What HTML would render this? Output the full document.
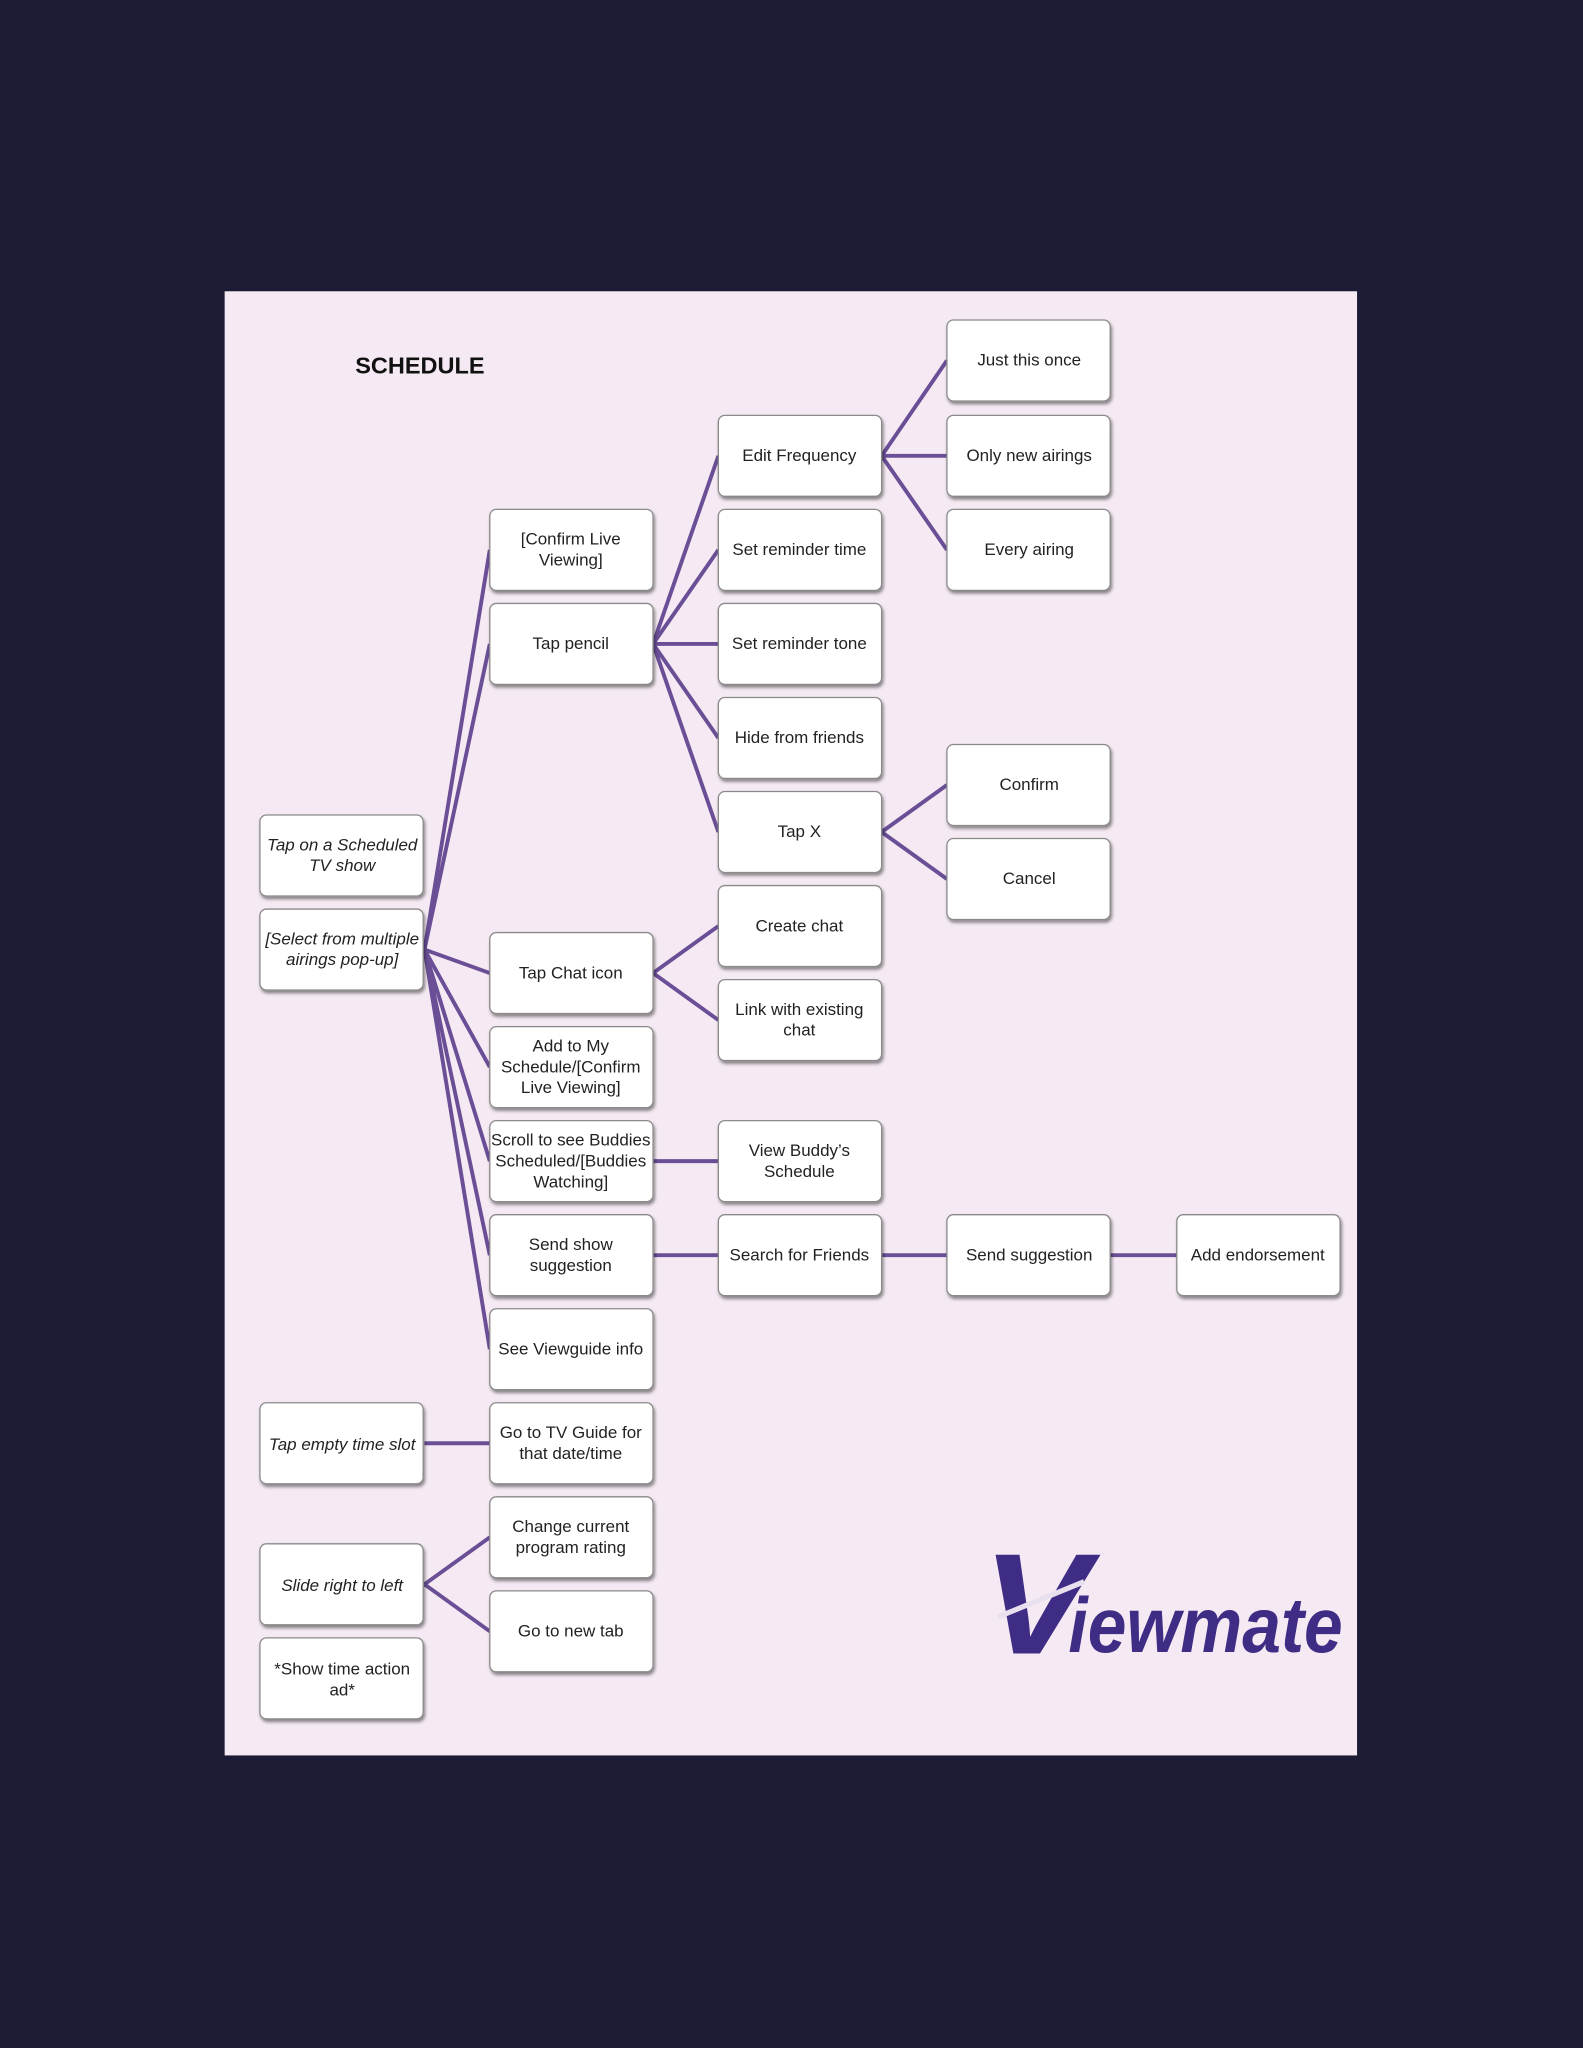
<!DOCTYPE html>
<html><head><meta charset="utf-8"><style>
html,body{margin:0;padding:0;background:#1c1b36;}
svg{display:block;}
text{font-family:"Liberation Sans",sans-serif;}
</style></head><body>
<svg width="1583" height="2048" viewBox="0 0 1212 1568" preserveAspectRatio="none" xmlns="http://www.w3.org/2000/svg">
<defs>
<filter id="sh" x="-10%" y="-10%" width="130%" height="140%"><feDropShadow dx="1" dy="2" stdDeviation="1.2" flood-color="#000" flood-opacity="0.45"/></filter>
</defs>
<rect width="1212" height="1568" fill="#1c1b36"/>
<rect x="172" y="223" width="867" height="1121" fill="#f5eaf3"/>
<text x="272" y="286" font-size="18" font-weight="bold" fill="#111" textLength="99" lengthAdjust="spacingAndGlyphs">SCHEDULE</text>
<g stroke="#6a4f96" stroke-width="3" fill="none">
<path d="M325 727L375 421M325 727L375 493M325 727L375 745M325 727L375 817M325 727L375 889M325 727L375 961M325 727L375 1033"/>
<path d="M500 493L550 349M500 493L550 421M500 493L550 493M500 493L550 565M500 493L550 637"/>
<path d="M675 349L725 276M675 349L725 349M675 349L725 421"/>
<path d="M675 637L725 601M675 637L725 673"/>
<path d="M500 745L550 709M500 745L550 781"/>
<path d="M500 889L550 889M500 961L550 961M675 961L725 961M850 961L901 961"/>
<path d="M325 1105L375 1105M325 1213L375 1177M325 1213L375 1249"/>
</g>
<g font-size="13" fill="#222" text-anchor="middle">
<g filter="url(#sh)" fill="#fff" stroke="#8a8a8a" stroke-width="1">
<rect x="199" y="624" width="125" height="62" rx="5"/>
<rect x="199" y="696" width="125" height="62" rx="5"/>
<rect x="199" y="1074" width="125" height="62" rx="5"/>
<rect x="199" y="1182" width="125" height="62" rx="5"/>
<rect x="199" y="1254" width="125" height="62" rx="5"/>
<rect x="375" y="390" width="125" height="62" rx="5"/>
<rect x="375" y="462" width="125" height="62" rx="5"/>
<rect x="375" y="714" width="125" height="62" rx="5"/>
<rect x="375" y="786" width="125" height="62" rx="5"/>
<rect x="375" y="858" width="125" height="62" rx="5"/>
<rect x="375" y="930" width="125" height="62" rx="5"/>
<rect x="375" y="1002" width="125" height="62" rx="5"/>
<rect x="375" y="1074" width="125" height="62" rx="5"/>
<rect x="375" y="1146" width="125" height="62" rx="5"/>
<rect x="375" y="1218" width="125" height="62" rx="5"/>
<rect x="550" y="318" width="125" height="62" rx="5"/>
<rect x="550" y="390" width="125" height="62" rx="5"/>
<rect x="550" y="462" width="125" height="62" rx="5"/>
<rect x="550" y="534" width="125" height="62" rx="5"/>
<rect x="550" y="606" width="125" height="62" rx="5"/>
<rect x="550" y="678" width="125" height="62" rx="5"/>
<rect x="550" y="750" width="125" height="62" rx="5"/>
<rect x="550" y="858" width="125" height="62" rx="5"/>
<rect x="550" y="930" width="125" height="62" rx="5"/>
<rect x="725" y="245" width="125" height="62" rx="5"/>
<rect x="725" y="318" width="125" height="62" rx="5"/>
<rect x="725" y="390" width="125" height="62" rx="5"/>
<rect x="725" y="570" width="125" height="62" rx="5"/>
<rect x="725" y="642" width="125" height="62" rx="5"/>
<rect x="725" y="930" width="125" height="62" rx="5"/>
<rect x="901" y="930" width="125" height="62" rx="5"/>
</g>
<g font-style="italic">
<text x="262" y="651">Tap on a Scheduled</text><text x="262" y="667">TV show</text>
<text x="262" y="723">[Select from multiple</text><text x="262" y="739">airings pop-up]</text>
<text x="262" y="1110">Tap empty time slot</text>
<text x="262" y="1218">Slide right to left</text>
</g>
<text x="262" y="1282">*Show time action</text><text x="262" y="1298">ad*</text>
<text x="437" y="417">[Confirm Live</text><text x="437" y="433">Viewing]</text>
<text x="437" y="497">Tap pencil</text>
<text x="437" y="749">Tap Chat icon</text>
<text x="437" y="805">Add to My</text><text x="437" y="821">Schedule/[Confirm</text><text x="437" y="837">Live Viewing]</text>
<text x="437" y="877">Scroll to see Buddies</text><text x="437" y="893">Scheduled/[Buddies</text><text x="437" y="909">Watching]</text>
<text x="437" y="957">Send show</text><text x="437" y="973">suggestion</text>
<text x="437" y="1037">See Viewguide info</text>
<text x="437" y="1101">Go to TV Guide for</text><text x="437" y="1117">that date/time</text>
<text x="437" y="1173">Change current</text><text x="437" y="1189">program rating</text>
<text x="437" y="1253">Go to new tab</text>
<text x="612" y="353">Edit Frequency</text>
<text x="612" y="425">Set reminder time</text>
<text x="612" y="497">Set reminder tone</text>
<text x="612" y="569">Hide from friends</text>
<text x="612" y="641">Tap X</text>
<text x="612" y="713">Create chat</text>
<text x="612" y="777">Link with existing</text><text x="612" y="793">chat</text>
<text x="612" y="885">View Buddy’s</text><text x="612" y="901">Schedule</text>
<text x="612" y="965">Search for Friends</text>
<text x="788" y="280">Just this once</text>
<text x="788" y="353">Only new airings</text>
<text x="788" y="425">Every airing</text>
<text x="788" y="605">Confirm</text>
<text x="788" y="677">Cancel</text>
<text x="788" y="965">Send suggestion</text>
<text x="963" y="965">Add endorsement</text>
</g>
<g fill="#3f2d85" font-weight="bold" font-style="italic">
<text x="752" y="1266" font-size="110" textLength="82" lengthAdjust="spacingAndGlyphs">V</text>
<text x="818" y="1265" font-size="60" textLength="210" lengthAdjust="spacingAndGlyphs">iewmate</text>
</g>
<line x1="764" y1="1238" x2="830" y2="1211" stroke="#e8e0ee" stroke-width="4"/>
</svg>
</body></html>
